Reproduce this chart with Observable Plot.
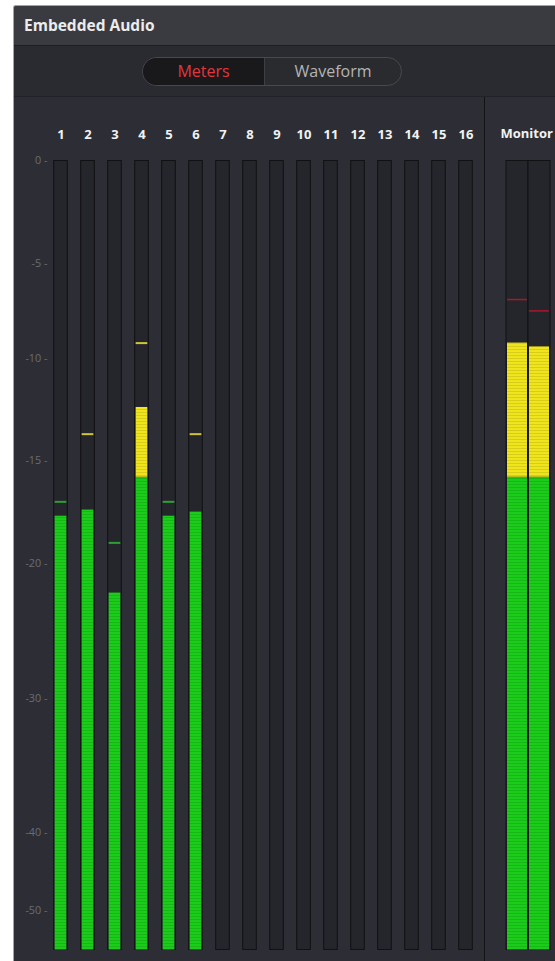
<!DOCTYPE html>
<html><head><meta charset="utf-8">
<script src="https://cdn.jsdelivr.net/npm/d3@7"></script>
<script src="https://cdn.jsdelivr.net/npm/@observablehq/plot@0.6"></script>
<style>
html,body{margin:0;padding:0;background:#fff;width:555px;height:961px;overflow:hidden;font-family:"Open Sans",sans-serif}
#win{position:absolute;left:13px;top:5px;width:600px;height:990px;background:#2d2e35;border-left:1px solid #a4a4a6;border-top:1px solid #a4a4a6;border-top-left-radius:3px;overflow:hidden}
#titlebar{position:absolute;left:0;top:0;width:100%;height:39px;background:#3a3b40;border-bottom:1px solid #1d1e22}
#titlebar span{position:absolute;left:10px;top:12px;line-height:15px;color:#ececec;font-weight:700;font-size:15.5px;white-space:nowrap}
#toolbar{position:absolute;left:0;top:40px;width:100%;height:50px;background:#2a2b30;border-bottom:1px solid #212227}
.seg{position:absolute;left:128px;top:11px;width:258px;height:27px;border:1px solid #48494e;border-radius:15px;overflow:hidden;display:flex;background:#2a2b2f}
.seg div{display:flex;align-items:center;justify-content:center;font-size:16px;line-height:27px}
.seg .on{width:121px;background:#19191c;color:#e2363b;border-right:1px solid #3e3f44}
.seg .off{flex:1;color:#b4b4b6}
#meters{position:absolute;left:0;top:91px;width:600px;height:900px}
#left{position:absolute;left:0;top:0;width:470px;height:864px}
#right{position:absolute;left:470px;top:0;width:90px;height:900px;border-left:1px solid #131316;background:#2e2f36}
svg{display:block}
</style></head>
<body>
<div id="win">
  <div id="titlebar"><span>Embedded Audio</span></div>
  <div id="toolbar"><div class="seg"><div class="on">Meters</div><div class="off">Waveform</div></div></div>
  <div id="meters"><div id="left"></div><div id="right"></div></div>
</div>
<script>
// ---- data ----
const channels = ["1","2","3","4","5","6","7","8","9","10","11","12","13","14","15","16"];
const levels   = [-17.7, -17.4, -22.2, -12.4, -17.7, -17.5, null, null, null, null, null, null, null, null, null, null];
const peaks    = [-17.0, -13.7, -19.0, -9.2, -17.0, -13.7, null, null, null, null, null, null, null, null, null, null];
const monitorChannels = ["L","R"];
const monitorLevels = [-9.2, -9.4];
const monitorPeaks  = [-6.9, -7.5];
const tickValues = [0, -5, -10, -15, -20, -30, -40, -50];
const floorDb = -55;
const yellowDb = -15.8;
const redDb = -8;

// ---- meter law: dB -> percent of meter height (piecewise) ----
const lawDb  = [-55, -50, -40, -30, -20, -15, -10, -5, 0];
const lawPct = [0, 5, 14.9, 31.9, 49.0, 62.0, 75.0, 87.0, 100];
const meterLaw = d3.scaleLinear().domain(lawDb).range(lawPct);

const trackFill = "#25262b", trackStroke = "#111113";
const zoneFill = {green: "#1bcc1b", yellow: "#f0e41c", red: "#d8222c"};
const peakColor = v => v >= redDb ? "#a8182a" : v >= yellowDb ? "#cfc43a" : "#2f9e34";

function segmentsOf(names, lv) {
  const out = [];
  names.forEach((ch, i) => {
    const v = lv[i];
    if (v == null) return;
    out.push({ch, y1: floorDb, y2: Math.min(v, yellowDb), zone: "green"});
    if (v > yellowDb) out.push({ch, y1: yellowDb, y2: Math.min(v, redDb), zone: "yellow"});
    if (v > redDb) out.push({ch, y1: redDb, y2: v, zone: "red"});
  });
  return out;
}
const peakRows = (names, pk) => names.map((ch, i) => ({ch, peak: pk[i]})).filter(d => d.peak != null);

const yScale = {transform: v => meterLaw(v), domain: [0, 100], range: [852.5, 63.5], label: null, axis: null};

function addScanPattern(svg) {
  const ns = "http://www.w3.org/2000/svg";
  const defs = document.createElementNS(ns, "defs");
  defs.innerHTML = '<pattern id="scan" width="4" height="3" patternUnits="userSpaceOnUse"><rect width="4" height="1" fill="#000" fill-opacity="0.10"/></pattern>';
  svg.insertBefore(defs, svg.firstChild);
}

const left = Plot.plot({
  width: 470, height: 864,
  marginTop: 63.5, marginLeft: 33, marginRight: 0, marginBottom: 0,
  style: {background: "transparent", fontFamily: "Open Sans, sans-serif", overflow: "visible"},
  x: {type: "band", domain: channels, range: [30.33, 467.67], padding: 0, label: null},
  y: yScale,
  marks: [
    Plot.barY(channels, {x: d => d, y1: floorDb, y2: 0, fill: trackFill, stroke: trackStroke, strokeWidth: 1, insetLeft: 6.67, insetRight: 6.67}),
    Plot.barY(segmentsOf(channels, levels), {x: "ch", y1: "y1", y2: "y2", fill: d => zoneFill[d.zone], insetLeft: 7.67, insetRight: 7.67}),
    Plot.barY(segmentsOf(channels, levels), {x: "ch", y1: "y1", y2: "y2", fill: "url(#scan)", insetLeft: 7.67, insetRight: 7.67}),
    Plot.tickY(peakRows(channels, peaks), {x: "ch", y: "peak", stroke: d => peakColor(d.peak), strokeWidth: 2, insetLeft: 7.67, insetRight: 7.67}),
    // dB labels down the left side
    Plot.text(tickValues, {y: d => d, text: d => `${d} -`, frameAnchor: "left", textAnchor: "end", fill: "#6a6c73", fontSize: 10.8}),
    Plot.axisX({anchor: "top", tickSize: 0, tickPadding: 22.5, fill: "#f2f2f2", fontSize: 13, fontWeight: "bold", label: null})
  ]
});
addScanPattern(left);
document.getElementById("left").appendChild(left);

const right = Plot.plot({
  width: 90, height: 864,
  marginTop: 63.5, marginLeft: 0, marginRight: 0, marginBottom: 0,
  style: {background: "transparent", fontFamily: "Open Sans, sans-serif", overflow: "visible"},
  x: {type: "band", domain: monitorChannels, range: [20.5, 65], padding: 0, axis: null},
  y: yScale,
  marks: [
    Plot.barY(monitorChannels, {x: d => d, y1: floorDb, y2: 0, fill: trackFill, stroke: trackStroke, strokeWidth: 1}),
    Plot.barY(segmentsOf(monitorChannels, monitorLevels), {x: "ch", y1: "y1", y2: "y2", fill: d => zoneFill[d.zone], insetLeft: 1, insetRight: 1}),
    Plot.barY(segmentsOf(monitorChannels, monitorLevels), {x: "ch", y1: "y1", y2: "y2", fill: "url(#scan)", insetLeft: 1, insetRight: 1}),
    Plot.tickY(peakRows(monitorChannels, monitorPeaks), {x: "ch", y: "peak", stroke: d => peakColor(d.peak), strokeWidth: 1.5, insetLeft: 1, insetRight: 1}),
    Plot.text(["Monitor"], {text: d => d, frameAnchor: "top-left", dx: 15, dy: -27.5, textAnchor: "start", lineAnchor: "middle", fill: "#f2f2f2", fontSize: 13, fontWeight: "bold"})
  ]
});
document.getElementById("right").appendChild(right);
</script>
</body></html>
